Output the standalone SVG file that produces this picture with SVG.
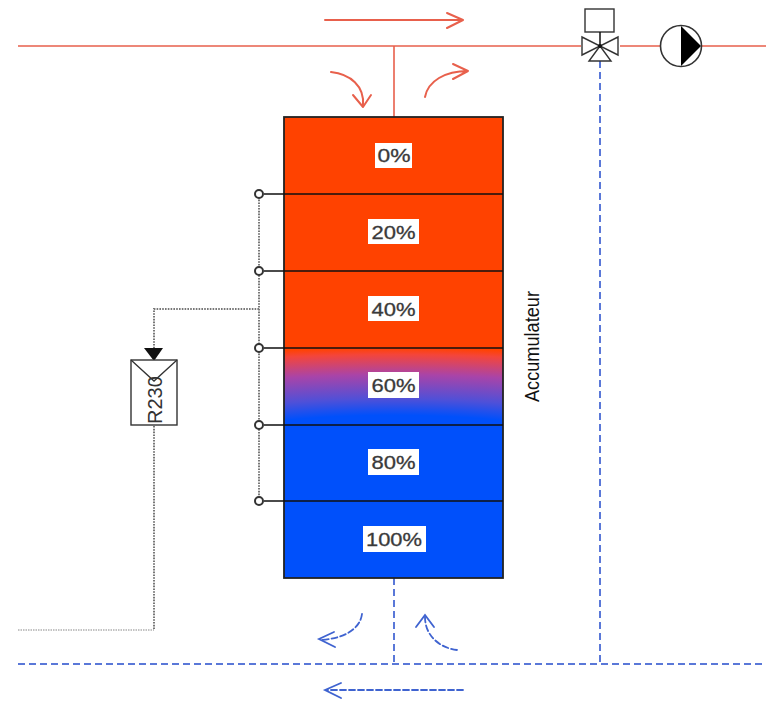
<svg xmlns="http://www.w3.org/2000/svg" width="766" height="701" viewBox="0 0 766 701">
<style>
.red{stroke:#e8604c;stroke-width:1.6;fill:none}
.redb{stroke:#e8604c;stroke-width:2;fill:none;stroke-linecap:round;stroke-linejoin:round}
.blue{stroke:#5a78d8;stroke-width:2;fill:none;stroke-dasharray:7 4}
.blueb{stroke:#3f63d0;stroke-width:1.8;fill:none;stroke-dasharray:6 3;stroke-linecap:round}
.solid{stroke-dasharray:none}
.dot{stroke:#777;stroke-width:2;fill:none;stroke-dasharray:1.6 1.2}
.dot2{stroke:#888;stroke-width:1.1;fill:none;stroke-dasharray:1.5 1}
.ln{stroke:#111;stroke-width:1.5;fill:none}
.sn{stroke:#333;stroke-width:1.4;fill:#fff}
.pct{font-family:"Liberation Sans",Arial,sans-serif;font-size:19px;fill:#3a3a3a;stroke:#3a3a3a;stroke-width:.3}
.lab{fill:#fff}
</style>
<defs>
<radialGradient id="mix" gradientUnits="userSpaceOnUse" cx="0" cy="0" r="135" gradientTransform="translate(393 480) scale(4.3 1)">
<stop offset="0.48" stop-color="#0050fb"/>
<stop offset="0.6" stop-color="#4f50d8"/>
<stop offset="0.78" stop-color="#a944a8"/>
<stop offset="0.93" stop-color="#f4453a"/>
<stop offset="0.98" stop-color="#ff4200"/>
</radialGradient>
</defs>
<g id="connectors">
<path class="red" d="M18 46H581M620 46H660M702 46H766M394 46V117"/>
<path class="redb" d="M325 20H462M447 13L463 20L447 28"/>
<path class="redb" d="M331 72C350 74 365 86 363 106M353 95L363 107L371 95"/>
<path class="redb" d="M425 97C428 81 445 71 468 71M453 64L468 71L453 79"/>
<path class="blue" d="M600 61V664M18 664H766M394 578V664"/>
<path class="blueb" d="M362 614C360 630 342 639 320 640"/>
<path class="blueb solid" d="M334 632L319 639L335 647"/>
<path class="blueb" d="M457 650C440 648 425 636 425 617"/>
<path class="blueb solid" d="M416 627L425 615L434 627"/>
<path class="blueb" d="M463 690H326"/>
<path class="blueb solid" d="M341 683L325 690L341 698"/>
<path class="dot" d="M259 194V501M259 309H154V349M154 426V629"/>
<path class="dot2" d="M18 630H154"/>
</g>
<g id="accumulateur">
<rect x="284" y="117" width="219" height="232" fill="#ff4200"/>
<rect x="284" y="348" width="219" height="78" fill="url(#mix)"/>
<rect x="284" y="425" width="219" height="153" fill="#0050fb"/>
<rect x="284" y="117" width="219" height="461" fill="none" stroke="#222" stroke-width="1.8"/>
<path class="ln" d="M264 194H503M264 271H503M264 348H503M264 425H503M264 501H503"/>
<g fill="#fff" stroke="#333" stroke-width="2">
<circle cx="259" cy="194" r="4"/><circle cx="259" cy="271" r="4"/><circle cx="259" cy="348" r="4"/><circle cx="259" cy="425" r="4"/><circle cx="259" cy="501" r="4"/>
</g>
<rect class="lab" x="375" y="143" width="37" height="25"/>
<rect class="lab" x="368" y="219" width="51" height="25"/>
<rect class="lab" x="368" y="296" width="51" height="25"/>
<rect class="lab" x="368" y="372" width="51" height="26"/>
<rect class="lab" x="368" y="449" width="51" height="26"/>
<rect class="lab" x="363" y="526" width="63" height="26"/>
<text class="pct" x="377.500" y="162" textLength="33" lengthAdjust="spacingAndGlyphs">0%</text>
<text class="pct" x="371.500" y="238.500" textLength="44" lengthAdjust="spacingAndGlyphs">20%</text>
<text class="pct" x="371.500" y="315.500" textLength="44" lengthAdjust="spacingAndGlyphs">40%</text>
<text class="pct" x="371.500" y="392" textLength="44" lengthAdjust="spacingAndGlyphs">60%</text>
<text class="pct" x="371.500" y="469" textLength="44" lengthAdjust="spacingAndGlyphs">80%</text>
<text class="pct" x="366" y="546" textLength="56" lengthAdjust="spacingAndGlyphs">100%</text>
<text transform="translate(539 402) rotate(-90)" font-family="Liberation Sans,Arial,sans-serif" font-size="20" textLength="111" lengthAdjust="spacingAndGlyphs" fill="#111">Accumulateur</text>
</g>
<g id="r230">
<path d="M144 348H163L154 361Z" fill="#111"/>
<rect class="sn" x="131" y="360" width="46" height="65"/>
<path d="M131 360L154 381L177 360" fill="none" stroke="#333" stroke-width="1.3"/>
<text transform="translate(161.500 424) rotate(-90)" font-family="Liberation Sans,Arial,sans-serif" font-size="20" fill="#333">R230</text>
</g>
<g id="vanne">
<rect class="sn" x="585" y="9" width="29" height="23"/>
<path class="ln" d="M600 32V46" stroke="#333"/>
<path class="sn" d="M582 37V55L600 46Z"/>
<path class="sn" d="M618 37V55L600 46Z"/>
<path class="sn" d="M600 46L589 61H611Z"/>
<circle cx="600" cy="46" r="2" fill="#111"/>
</g>
<g id="pompe">
<circle cx="681" cy="46" r="20.500" fill="#fff" stroke="#333" stroke-width="1.6"/>
<path d="M681 26L701 46L681 66Z" fill="#000"/>
</g>
</svg>
